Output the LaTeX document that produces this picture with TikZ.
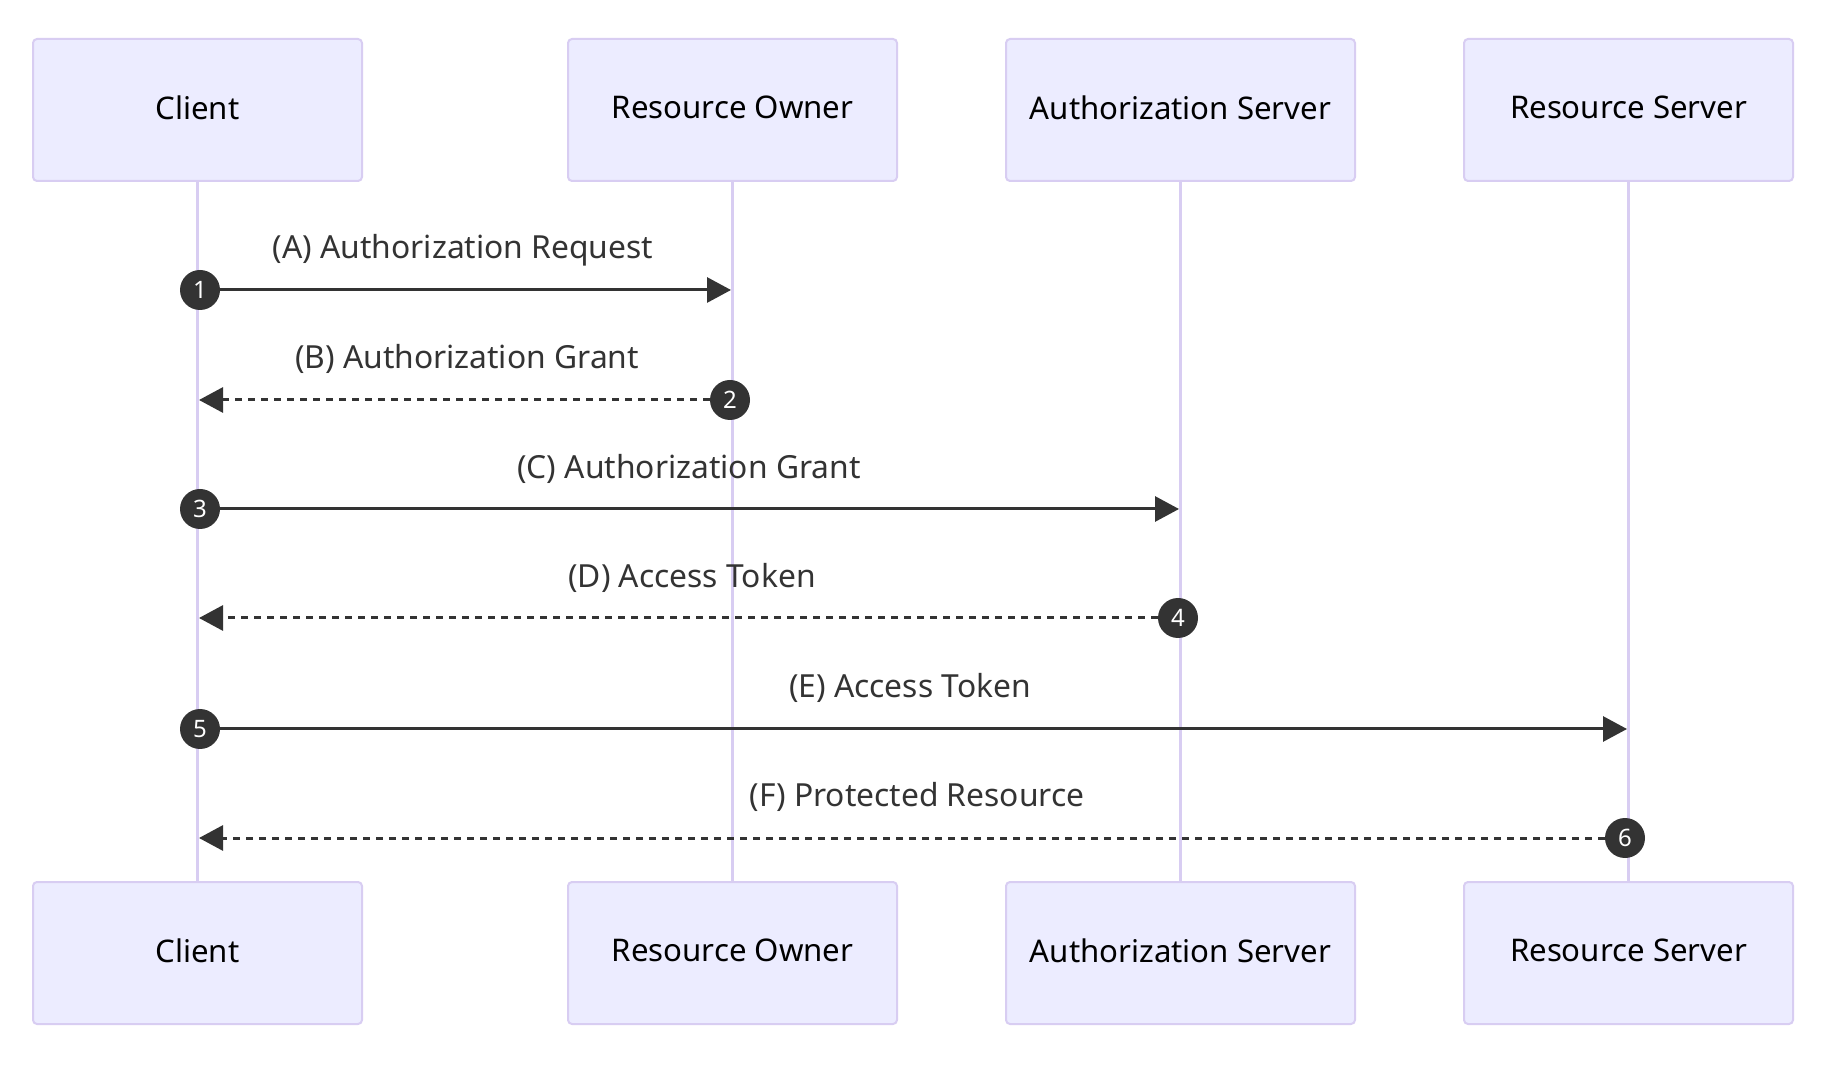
\documentclass[tikz,border=0pt]{standalone}
\usepackage{fontspec}
\setmainfont{Noto Sans}
\usetikzlibrary{arrows.meta}
\definecolor{actfill}{HTML}{ECECFF}
\definecolor{actline}{HTML}{D8CDF2}
\definecolor{ink}{HTML}{333333}
\tikzset{
  actor/.style={draw=actline, line width=1pt, fill=actfill, rounded corners=2pt,
    minimum width=164.5pt, minimum height=71pt, inner sep=0pt, text depth=2.4pt,
    font=\fontsize{15.6}{19}\selectfont, text=black},
  wideactor/.style={actor, minimum width=174.5pt},
  life/.style={draw=actline, line width=1.8pt},
  msg/.style={draw=ink, line width=1.5pt, -{Triangle[length=12pt,width=12.5pt]}},
  ret/.style={msg, dash pattern=on 3.5pt off 3pt},
  mlabel/.style={font=\fontsize{15.9}{19}\selectfont, text=ink, inner sep=0pt},
  num/.style={circle, fill=ink, text=white, minimum size=20pt, inner sep=0pt,
    font=\fontsize{12}{13}\selectfont}
}
\begin{document}
\begin{tikzpicture}[x=0.5pt,y=-0.5pt]
\useasboundingbox[fill=white] (0,0) rectangle (1836,1068);
% actors
\node[actor] (cT) at (197.5,110) {Client};
\node[actor] (roT) at (732.5,110) {Resource Owner};
\node[wideactor] (asT) at (1180.5,110) {Authorization Server};
\node[actor] (rsT) at (1628.5,110) {Resource Server};
\node[actor] (cB) at (197.5,953) {Client};
\node[actor] (roB) at (732.5,953) {Resource Owner};
\node[wideactor] (asB) at (1180.5,953) {Authorization Server};
\node[actor] (rsB) at (1628.5,953) {Resource Server};
% lifelines
\draw[life] (cT.south) -- (cB.north);
\draw[life] (roT.south) -- (roB.north);
\draw[life] (asT.south) -- (asB.north);
\draw[life] (rsT.south) -- (rsB.north);
% message endpoints
\coordinate (tA) at (731,290);
\coordinate (tB) at (199,400);
\coordinate (tC) at (1179,509);
\coordinate (tD) at (199,618);
\coordinate (tE) at (1627,729);
\coordinate (tF) at (199,838);
% numbers
\node[num] (n1) at (200,290) {1};
\node[num] (n2) at (730,400) {2};
\node[num] (n3) at (200,509) {3};
\node[num] (n4) at (1178,618) {4};
\node[num] (n5) at (200,729) {5};
\node[num] (n6) at (1625,838) {6};
% messages
\draw[msg] (n1) -- (tA);
\draw[ret] (n2) -- (tB);
\draw[msg] (n3) -- (tC);
\draw[ret] (n4) -- (tD);
\draw[msg] (n5) -- (tE);
\draw[ret] (n6) -- (tF);
\node[mlabel] (lA) at (463,250) {(A) Authorization Request};
\node[mlabel] (lB) at (467,359) {(B) Authorization Grant};
\node[mlabel] (lC) at (689,469) {(C) Authorization Grant};
\node[mlabel] (lD) at (692,578) {(D) Access Token};
\node[mlabel] (lE) at (910,688) {(E) Access Token};
\node[mlabel] (lF) at (917,797) {(F) Protected Resource};
\end{tikzpicture}
\end{document}
